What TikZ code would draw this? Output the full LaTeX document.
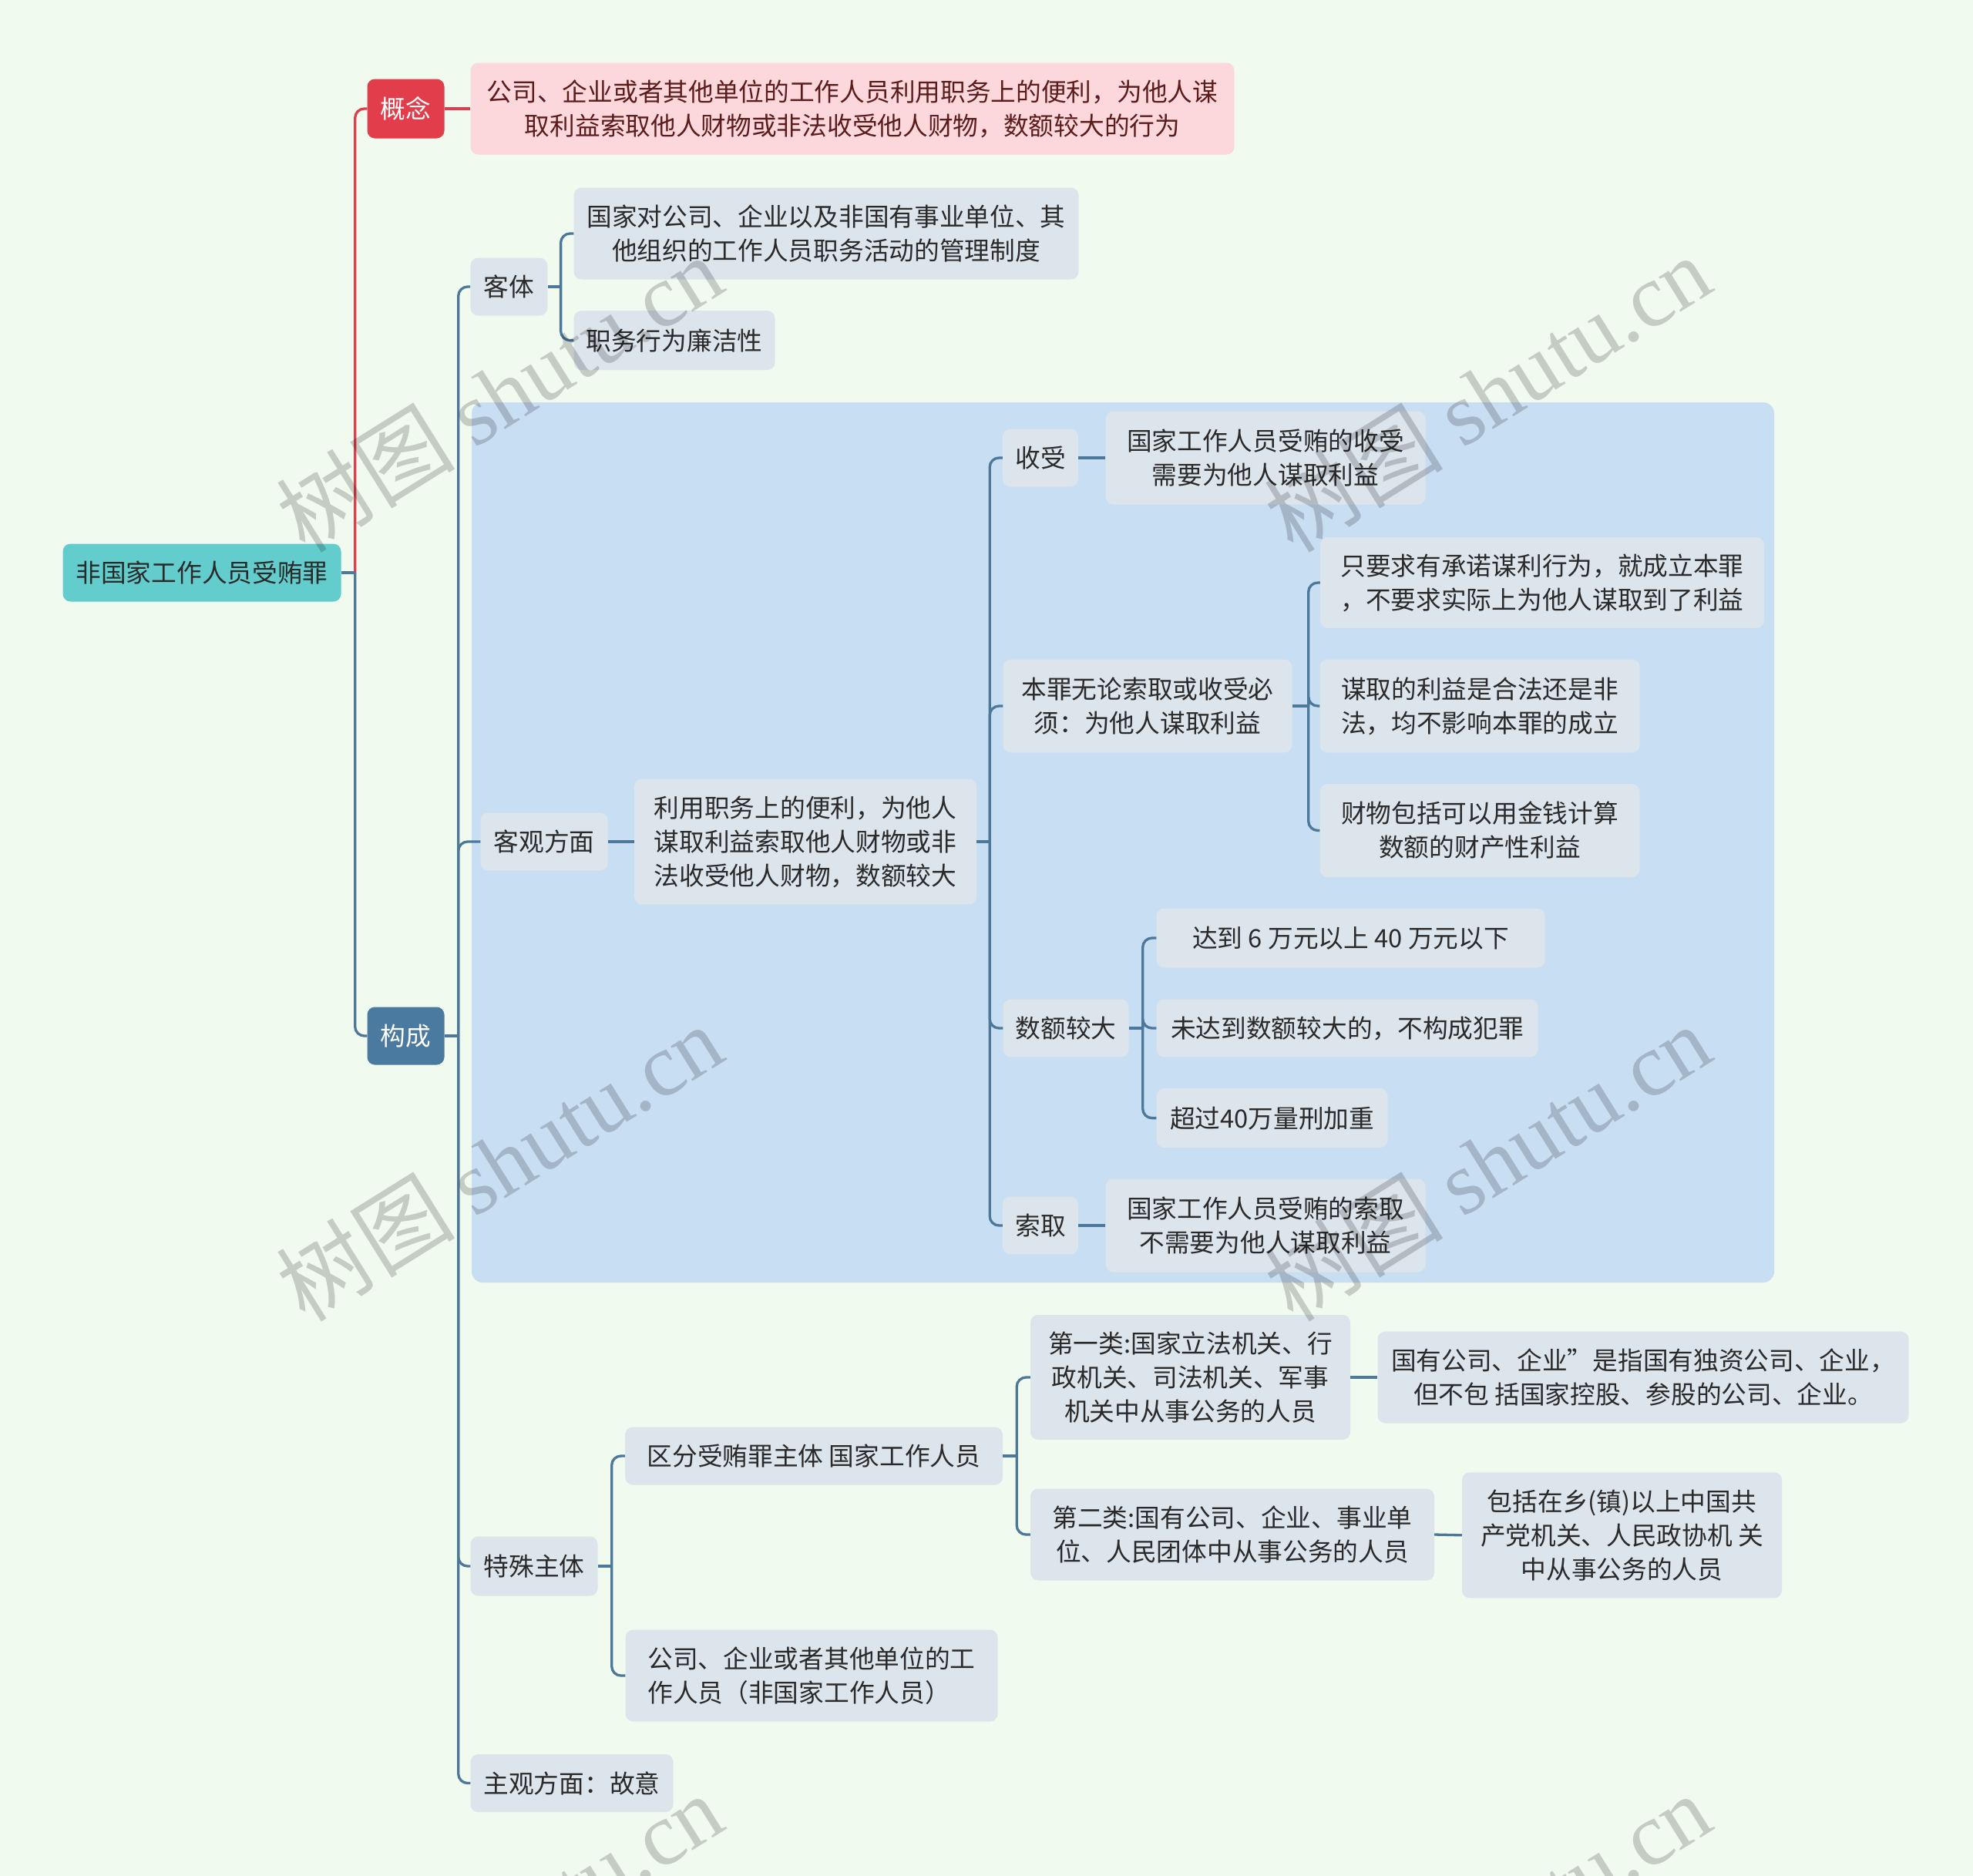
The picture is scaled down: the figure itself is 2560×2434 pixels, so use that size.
\documentclass[tikz,border=0pt]{standalone}
\usepackage{fontspec}
\setmainfont{Noto Sans CJK SC}
\newfontfamily\wmlatin{Liberation Serif}
\usetikzlibrary{calc}
\definecolor{bgc}{HTML}{F0FAEF}
\definecolor{rootc}{HTML}{62CDCC}
\definecolor{redc}{HTML}{E23D4B}
\definecolor{pinkc}{HTML}{FCD8DC}
\definecolor{ctext}{HTML}{5B1C1C}
\definecolor{bluec}{HTML}{4A7A9F}
\definecolor{nodec}{HTML}{DCE4EC}
\definecolor{regionc}{HTML}{C8DEF2}
\definecolor{linec}{HTML}{4D7899}
\definecolor{txtc}{HTML}{2A2A2A}
\tikzset{
  box/.style={rounded corners=10pt, inner sep=0pt, align=center, text=txtc, fill=nodec},
  bw/.style={minimum width=#1},
  bh/.style={minimum height=#1},
  conn/.style={draw=linec, line width=3.3pt, rounded corners=12pt},
  wm/.style={rotate=32, text=black, text opacity=0.18, font=\fontsize{116}{116}\selectfont},
}
\begin{document}
\begin{tikzpicture}[x=1pt,y=-1pt,font=\fontsize{32.7}{44}\selectfont]
\useasboundingbox (0,0) rectangle (2560,2434);
\fill[bgc] (0,0) rectangle (2560,2434);
\clip (0,0) rectangle (2560,2434);
% region
\fill[regionc, rounded corners=14pt] (612,522) rectangle (2302,1664);

% nodes
\node[box, fill=rootc, bw=361, bh=75] (root) at (262,743) {非国家工作人员受贿罪};
\node[box, fill=redc, text=white, bw=100, bh=77] (gn) at (526.5,141) {概念};
\node[box, fill=pinkc, text=ctext, bw=991, bh=119] (gnt) at (1106,141) {公司、企业或者其他单位的工作人员利用职务上的便利，为他人谋\\取利益索取他人财物或非法收受他人财物，数额较大的行为};
\node[box, fill=bluec, text=white, bw=100, bh=75] (gc) at (526.5,1344) {构成};

\node[box, bw=100, bh=75] (kt) at (660.4,372) {客体};
\node[box, bw=655, bh=119] (kt1) at (1072,303) {国家对公司、企业以及非国有事业单位、其\\他组织的工作人员职务活动的管理制度};
\node[box, bw=261, bh=77] (kt2) at (875,441.6) {职务行为廉洁性};

\node[box, bw=165, bh=75] (kg) at (706,1092) {客观方面};
\node[box, bw=444, bh=163] (kg1) at (1045,1092) {利用职务上的便利，为他人\\谋取利益索取他人财物或非\\法收受他人财物，数额较大};

\node[box, bw=98, bh=75] (ss) at (1350,594) {收受};
\node[box, bw=415, bh=121] (ss1) at (1642,594) {国家工作人员受贿的收受\\需要为他人谋取利益};

\node[box, bw=375, bh=121] (bz) at (1489,916) {本罪无论索取或收受必\\须：为他人谋取利益};
\node[box, bw=576, bh=118] (bz1) at (2001,756) {只要求有承诺谋利行为，就成立本罪\\，不要求实际上为他人谋取到了利益};
\node[box, bw=415, bh=121] (bz2) at (1920,916) {谋取的利益是合法还是非\\法，均不影响本罪的成立};
\node[box, bw=415, bh=121] (bz3) at (1920,1077.5) {财物包括可以用金钱计算\\数额的财产性利益};

\node[box, bw=163, bh=75] (se) at (1383,1334) {数额较大};
\node[box, bw=504, bh=77] (se1) at (1752.6,1217) {达到 6 万元以上 40 万元以下};
\node[box, bw=495, bh=75] (se2) at (1748,1334) {未达到数额较大的，不构成犯罪};
\node[box, bw=300, bh=77] (se3) at (1650.6,1450.6) {超过40万量刑加重};

\node[box, bw=98, bh=75] (sq) at (1350,1590) {索取};
\node[box, bw=415, bh=121] (sq1) at (1642,1590) {国家工作人员受贿的索取\\不需要为他人谋取利益};

\node[box, bw=165, bh=77] (ts) at (693,2032) {特殊主体};
\node[box, bw=490, bh=75] (qf) at (1056,1889) {区分受贿罪主体 国家工作人员};
\node[box, bw=415, bh=162] (d1) at (1544.5,1787) {第一类:国家立法机关、行\\政机关、司法机关、军事\\机关中从事公务的人员};
\node[box, bw=689, bh=119] (d1a) at (2132,1787) {国有公司、企业”是指国有独资公司、企业，\\但不包 括国家控股、参股的公司、企业。};
\node[box, bw=524, bh=119] (d2) at (1599,1991) {第二类:国有公司、企业、事业单\\位、人民团体中从事公务的人员};
\node[box, bw=415, bh=163] (d2a) at (2104.5,1991.8) {包括在乡(镇)以上中国共\\产党机关、人民政协机 关\\中从事公务的人员};
\node[box, bw=483, bh=119, align=left] (gs) at (1053,2174) {公司、企业或者其他单位的工\\作人员（非国家工作人员）};
\node[box, bw=263, bh=75] (zg) at (742,2313.5) {主观方面：故意};

% trunk coordinates
\coordinate (root-t) at ($(root.east)+(18,0)$);
\coordinate (gc-t) at ($(gc.east)+(18,0)$);
\coordinate (kt-t) at ($(kt.east)+(17,0)$);
\coordinate (kg1-t) at ($(kg1.east)+(17,0)$);
\coordinate (bz-t) at ($(bz.east)+(21,0)$);
\coordinate (se-t) at ($(se.east)+(18,0)$);
\coordinate (ts-t) at ($(ts.east)+(18,0)$);
\coordinate (qf-t) at ($(qf.east)+(18,0)$);

% connectors
\draw[conn, draw=redc] (root-t) |- (gn.west);
\draw[conn, draw=redc] (gn.east) -- (gnt.west);
\draw[conn] (root.east) -- (root-t);
\draw[conn] (root-t) |- (gc.west);

\draw[conn] (gc.east) -- (gc-t);
\foreach \c in {kt,kg,ts,zg} \draw[conn] (gc-t) |- (\c.west);

\draw[conn] (kt.east) -- (kt-t);
\foreach \c in {kt1,kt2} \draw[conn] (kt-t) |- (\c.west);

\draw[conn] (kg.east) -- (kg1.west);
\draw[conn] (kg1.east) -- (kg1-t);
\foreach \c in {ss,bz,se,sq} \draw[conn] (kg1-t) |- (\c.west);

\draw[conn] (ss.east) -- (ss1.west);
\draw[conn] (sq.east) -- (sq1.west);

\draw[conn] (bz.east) -- (bz-t);
\foreach \c in {bz1,bz2,bz3} \draw[conn] (bz-t) |- (\c.west);

\draw[conn] (se.east) -- (se-t);
\foreach \c in {se1,se2,se3} \draw[conn] (se-t) |- (\c.west);

\draw[conn] (ts.east) -- (ts-t);
\foreach \c in {qf,gs} \draw[conn] (ts-t) |- (\c.west);

\draw[conn] (qf.east) -- (qf-t);
\foreach \c in {d1,d2} \draw[conn] (qf-t) |- (\c.west);

\draw[conn] (d1.east) -- (d1a.west);
\draw[conn] (d2.east) -- (d2a.west);

% watermarks
\foreach \x/\y in {648/510, 1930/510, 648/1508, 1930/1508, 648/2506, 1930/2506}
  \node[wm] (wm-\x-\y) at (\x,\y) {树图 {\wmlatin shutu.cn}};
\end{tikzpicture}
\end{document}
